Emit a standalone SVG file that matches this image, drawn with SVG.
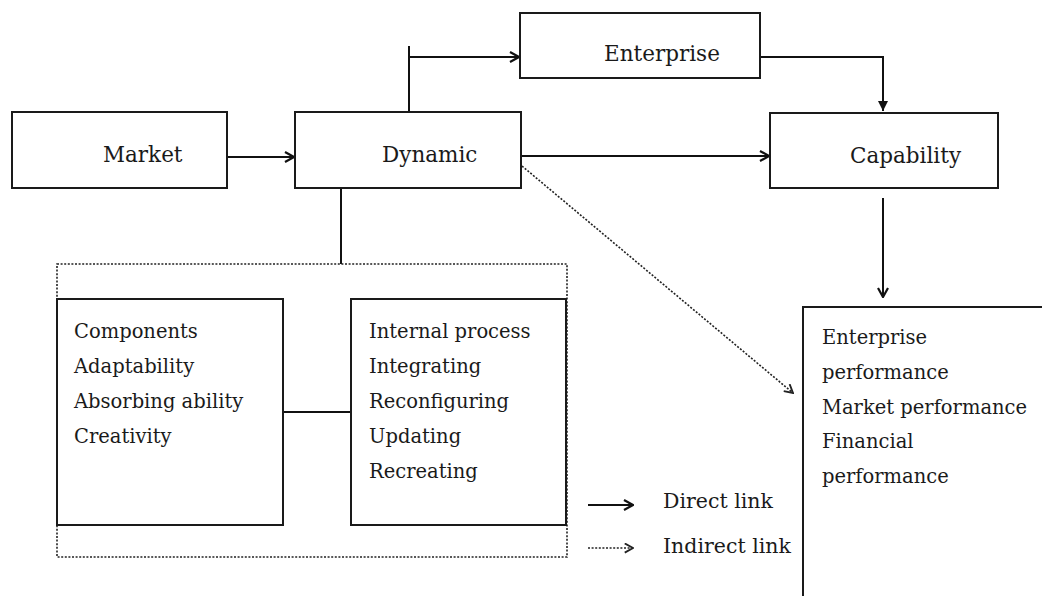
<svg xmlns="http://www.w3.org/2000/svg" width="1042" height="596" viewBox="0 0 1042 596">
<style>
.box{fill:#fff;stroke:#1a1a1a;stroke-width:2}
.t{font-family:"DejaVu Serif","Liberation Serif",serif;font-size:19.5px;fill:#1a1a1a}
.h{font-size:21.5px}
.lg{font-size:20.5px}
.ln{stroke:#111;stroke-width:2;fill:none}
.dot{stroke:#222;stroke-width:1.6;fill:none;stroke-dasharray:2 1.6}
</style>
<defs>
<marker id="chev" viewBox="0 0 12 12" refX="11" refY="6" markerWidth="12" markerHeight="12" markerUnits="userSpaceOnUse" orient="auto">
<path d="M2,1 L11,6 L2,11" fill="none" stroke="#111" stroke-width="2.2"/>
</marker>
<marker id="tri" viewBox="0 0 12 12" refX="11" refY="6" markerWidth="12" markerHeight="12" markerUnits="userSpaceOnUse" orient="auto">
<path d="M1,1 L11,6 L1,11 Z" fill="#111"/>
</marker>
<marker id="chevs" viewBox="0 0 12 12" refX="11" refY="6" markerWidth="11" markerHeight="11" markerUnits="userSpaceOnUse" orient="auto">
<path d="M2,1 L11,6 L2,11" fill="none" stroke="#222" stroke-width="2"/>
</marker>
</defs>
<rect width="1042" height="596" fill="#fff"/>
<g id="connectors">
<line class="ln" x1="227" y1="157" x2="294" y2="157" marker-end="url(#chev)"/>
<line class="ln" x1="409" y1="112" x2="409" y2="46"/>
<line class="ln" x1="409" y1="57" x2="519" y2="57" marker-end="url(#chev)"/>
<polyline class="ln" points="760,57 883,57 883,111" marker-end="url(#tri)"/>
<line class="ln" x1="521" y1="156" x2="769" y2="156" marker-end="url(#chev)"/>
<line class="ln" x1="883" y1="198" x2="883" y2="297" marker-end="url(#chev)"/>
<line class="dot" x1="522" y1="166" x2="793" y2="393" marker-end="url(#chevs)"/>
<line class="ln" x1="341" y1="188" x2="341" y2="264"/>
<line class="ln" x1="283" y1="412" x2="351" y2="412"/>
</g>
<g id="market">
<rect class="box" x="12" y="112" width="215" height="76"/>
<text class="t h" x="103" y="162">Market</text>
</g>
<g id="dynamic">
<rect class="box" x="295" y="112" width="226" height="76"/>
<text class="t h" x="382" y="162">Dynamic</text>
</g>
<g id="enterprise">
<rect class="box" x="520" y="13" width="240" height="65"/>
<text class="t h" x="604" y="61">Enterprise</text>
</g>
<g id="capability">
<rect class="box" x="770" y="113" width="228" height="75"/>
<text class="t h" x="850" y="163">Capability</text>
</g>
<g id="performance">
<rect class="box" x="803" y="307" width="260" height="310"/>
<text class="t" x="822" y="344">Enterprise</text>
<text class="t" x="822" y="379">performance</text>
<text class="t" x="822" y="414">Market performance</text>
<text class="t" x="822" y="448">Financial</text>
<text class="t" x="822" y="483">performance</text>
</g>
<g id="dynamic-group">
<rect class="dot" x="57" y="264" width="510" height="293"/>
</g>
<g id="components">
<rect class="box" x="57" y="299" width="226" height="226"/>
<text class="t" x="74" y="338">Components</text>
<text class="t" x="74" y="373">Adaptability</text>
<text class="t" x="74" y="408">Absorbing ability</text>
<text class="t" x="74" y="443">Creativity</text>
</g>
<g id="internal-process">
<rect class="box" x="351" y="299" width="215" height="226"/>
<text class="t" x="369" y="338">Internal process</text>
<text class="t" x="369" y="373">Integrating</text>
<text class="t" x="369" y="408">Reconfiguring</text>
<text class="t" x="369" y="443">Updating</text>
<text class="t" x="369" y="478">Recreating</text>
</g>
<g id="legend">
<line class="ln" x1="588" y1="505" x2="633" y2="505" marker-end="url(#chev)"/>
<text class="t lg" x="663" y="508">Direct link</text>
<line class="dot" x1="588" y1="548" x2="633" y2="548" marker-end="url(#chevs)"/>
<text class="t lg" x="663" y="553">Indirect link</text>
</g>
</svg>
